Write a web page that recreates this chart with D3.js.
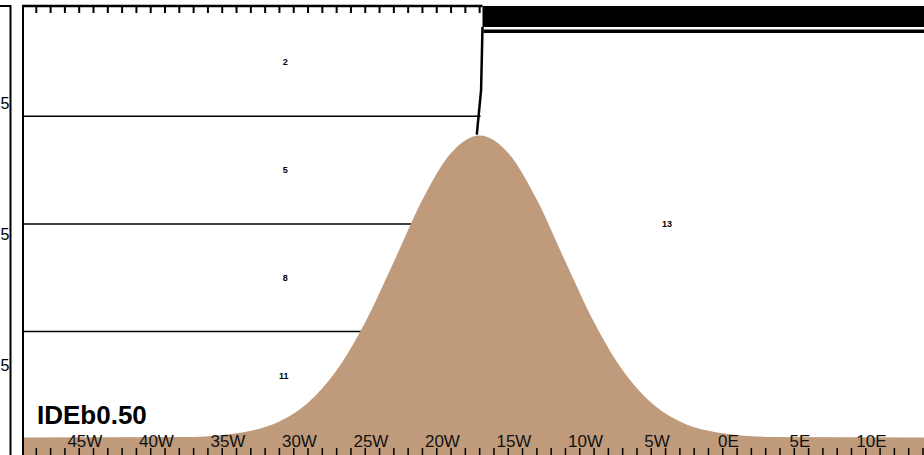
<!DOCTYPE html>
<html>
<head>
<meta charset="utf-8">
<script src="https://cdn.jsdelivr.net/npm/d3@7"></script>
<style>
  body { margin: 0; background: #fff; }
  svg { display: block; font-family: "Liberation Sans", Arial, sans-serif; }
</style>
</head>
<body>
<svg id="chart" width="924" height="455"></svg>
<script>
// section data (longitude in deg, negative = W ; depth in plot units)
var lonTicks = d3.range(-47, 16);
var lonLabels = [-45, -40, -35, -30, -25, -20, -15, -10, -5, 0, 5, 10];
var depthTicks = [25, 75, 125];

var terrainLon   = [-48, -36, -34, -32, -30, -28, -26, -24, -22, -20, -18, -16, -14, -12, -10, -8, -6, -4, -2, 0, 2, 4, 15.5];
var terrainDepth = [152.3, 152.1, 151.4, 149.8, 146.2, 139.1, 126.7, 108.4, 85.4, 61.8, 44.0, 37.3, 44.0, 61.8, 85.4, 108.4, 126.7, 139.1, 146.2, 149.8, 151.4, 152.1, 152.3];

var ridgeLon   = [-15.8, -15.9, -16.2];
var ridgeDepth = [-4, 20, 37];

var contourLevels = [30, 71, 112];
var regionLabels = ["2", "5", "8", "11", "13"];
var regionLon    = [-29.6, -29.6, -29.6, -29.7, -2.9];
var regionDepth  = [9.3, 50.5, 91.6, 129, 71];

var bandTop = -12, bandBottom = -4, bandLine = -2.4;

var svg = d3.select("#chart");
var x = d3.scaleLinear().domain([-48, 15]).range([22, 923]);
var y = d3.scaleLinear().domain([-12, 159]).range([6, 455]);
var ink = "#000";

// horizontal contours on the left side, stopping at the ridge or the slope
var ridgeAt = d3.scaleLinear().domain(ridgeDepth).range(ridgeLon);
contourLevels.forEach(function(L) {
    var end = ridgeAt(L);
    for (var i = 1; i < terrainLon.length; i++) {
        if (terrainDepth[i] <= L && terrainDepth[i-1] > L) {
            var t = (terrainDepth[i-1] - L) / (terrainDepth[i-1] - terrainDepth[i]);
            end = Math.min(end, terrainLon[i-1] + t * (terrainLon[i] - terrainLon[i-1]));
            break;
        }
    }
    svg.append("line")
        .attr("x1", x(-48)).attr("x2", x(end) + 2)
        .attr("y1", y(L)).attr("y2", y(L))
        .attr("stroke", ink).attr("stroke-width", 1.5);
});

// ridge contour
svg.append("path")
    .datum(d3.zip(ridgeLon, ridgeDepth))
    .attr("d", d3.line().x(function(d){ return x(d[0]); }).y(function(d){ return y(d[1]); }))
    .attr("fill", "none").attr("stroke", ink).attr("stroke-width", 2.5);

// dense contours band top right
svg.append("rect")
    .attr("x", x(ridgeLon[0])).attr("y", y(bandTop))
    .attr("width", 924 - x(ridgeLon[0])).attr("height", y(bandBottom) - y(bandTop))
    .attr("fill", ink);
svg.append("line")
    .attr("x1", x(ridgeLon[0]) + 1).attr("x2", 924)
    .attr("y1", y(bandLine)).attr("y2", y(bandLine))
    .attr("stroke", ink).attr("stroke-width", 3.5);

// topography
svg.append("path")
    .datum(d3.zip(terrainLon, terrainDepth))
    .attr("d", d3.area().curve(d3.curveMonotoneX)
        .x(function(d){ return x(d[0]); })
        .y0(455)
        .y1(function(d){ return y(d[1]); }))
    .attr("fill", "#bf9b7c");

// region labels
svg.selectAll("text.reg").data(regionLabels).enter().append("text")
    .attr("class", "reg")
    .attr("x", function(d, i){ return x(regionLon[i]); })
    .attr("y", function(d, i){ return y(regionDepth[i]); })
    .attr("dy", "0.35em")
    .attr("text-anchor", "middle")
    .attr("font-size", 9).attr("font-weight", "bold")
    .text(function(d){ return d; });

// frame
svg.append("path")
    .attr("d", "M0," + y(-12) + "H10.5V455")
    .attr("fill", "none").attr("stroke", ink).attr("stroke-width", 2);
svg.append("line")
    .attr("x1", 23).attr("x2", 23).attr("y1", y(-12)).attr("y2", 455)
    .attr("stroke", ink).attr("stroke-width", 2);
svg.append("line")
    .attr("x1", 22).attr("x2", x(ridgeLon[0])).attr("y1", y(-12)).attr("y2", y(-12))
    .attr("stroke", ink).attr("stroke-width", 2.5);

// top ticks
svg.selectAll("line.tt").data(lonTicks.filter(function(d){ return d <= -16; })).enter().append("line")
    .attr("class", "tt")
    .attr("x1", function(d){ return x(d); }).attr("x2", function(d){ return x(d); })
    .attr("y1", y(-12)).attr("y2", y(-12) + 7)
    .attr("stroke", ink).attr("stroke-width", 2);

// bottom ticks
svg.selectAll("line.bt").data(lonTicks).enter().append("line")
    .attr("class", "bt")
    .attr("x1", function(d){ return x(d); }).attr("x2", function(d){ return x(d); })
    .attr("y1", 455).attr("y2", 448)
    .attr("stroke", ink).attr("stroke-width", 1.5);

// longitude labels
svg.selectAll("text.lon").data(lonLabels).enter().append("text")
    .attr("class", "lon")
    .attr("x", function(d){ return x(d) + 20; })
    .attr("y", 447)
    .attr("text-anchor", "middle")
    .attr("font-size", 17)
    .attr("fill", "#111")
    .text(function(d){ return d < 0 ? (-d) + "W" : d + "E"; });

// depth labels (cut at the left edge as in the source figure)
svg.selectAll("text.dep").data(depthTicks).enter().append("text")
    .attr("class", "dep")
    .attr("x", 9.5)
    .attr("y", function(d){ return y(d); })
    .attr("dy", "0.35em")
    .attr("text-anchor", "end")
    .attr("font-size", 16)
    .text(function(d){ return d; });

// experiment tag
svg.append("text")
    .attr("x", 37).attr("y", 424)
    .attr("font-size", 26).attr("font-weight", "bold")
    .text("IDEb0.50");
</script>
</body>
</html>
